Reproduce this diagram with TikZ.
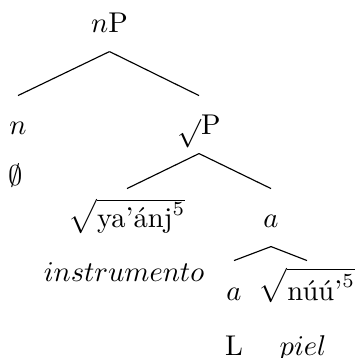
\documentclass[tikz,border=0pt]{standalone}
\usepackage{amsmath}
\usepackage{tikz}
\tikzset{lbl/.style={anchor=base, inner sep=3pt, text height=10.6pt, text depth=3.3pt}}
\begin{document}
\begin{tikzpicture}[x=0.35pt, y=-0.35pt]
            \useasboundingbox (0,0) rectangle (355,358);
            \node[lbl] (nP) at (109.5,33) {$n$P};
            \node[lbl] (n) at (18,135) {$n$};
            \node[lbl] (nul) at (16,186) {$\emptyset$};
            \node[lbl] (rP) at (199,135) {$\sqrt{}$P};
            \node[lbl] (yaanj) at (127,228) {$\sqrt{\text{ya'ánj}^5}$};
            \node[lbl] (instr) at (124,281) {$instrumento$};
            \node[lbl] (aP) at (271,228) {$a$};
            \node[lbl] (a) at (234,300) {$a$};
            \node[lbl] (nuu) at (307,300) {$\sqrt{\text{núú'}^5}$};
            \node[lbl] (L) at (234,355) {L};
            \node[lbl] (piel) at (303,355) {$piel$};
            \draw (nP.south) -- (n.north);
            \draw (nP.south) -- (rP.north);
            \draw (rP.south) -- (yaanj.north);
            \draw (rP.south) -- (aP.north);
            \draw (aP.south) -- (a.north);
            \draw (aP.south) -- (nuu.north);
          \end{tikzpicture}
\end{document}
